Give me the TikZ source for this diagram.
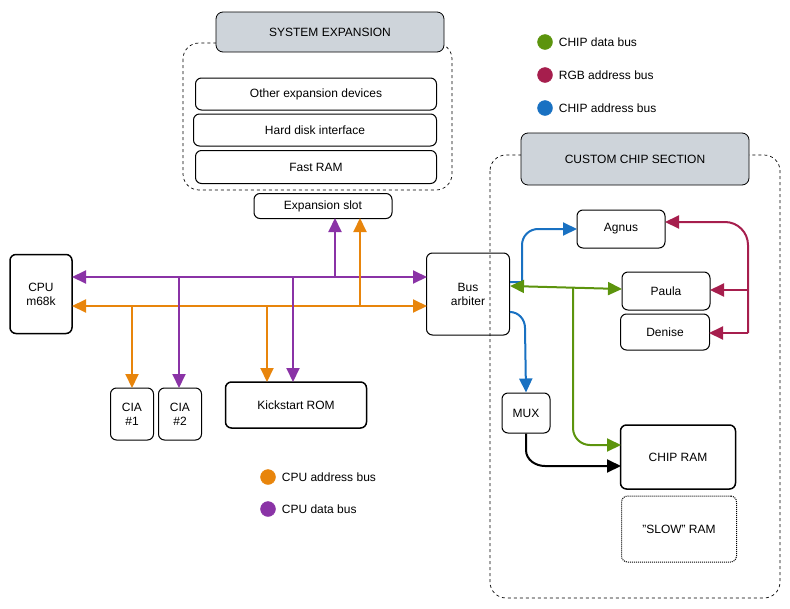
\documentclass[tikz,border=0pt]{standalone}
\usepackage{fontspec}
\setmainfont{Liberation Sans}
\usetikzlibrary{positioning, shapes.geometric, arrows.meta}
\definecolor{cpuaddr}{HTML}{E8850C}
\definecolor{cpudata}{HTML}{8A33A6}
\definecolor{chipdata}{HTML}{5C940D}
\definecolor{rgbaddr}{HTML}{A61E4D}
\definecolor{chipaddr}{HTML}{1971C2}
\definecolor{titlegray}{HTML}{CED4DA}
\tikzset{
  txt/.style={font=\fontsize{12}{14}\selectfont},
  blk/.style={draw, line width=1pt, rounded corners=6pt, txt, align=center, inner sep=0pt},
  sect/.style={draw, dashed, line width=0.7pt, rounded corners=16pt},
  ttl/.style={draw, line width=0.8pt, fill=titlegray, rounded corners=7pt, txt, inner sep=0pt},
  bus/.style={line width=2pt, -{Triangle[length=14pt,width=13pt]}},
  bibus/.style={line width=2pt, {Triangle[length=14pt,width=13pt]}-{Triangle[length=14pt,width=13pt]}},
  dot/.style={circle, fill=#1, draw=#1, inner sep=0pt, minimum size=15pt},
  lgd/.style={right=6pt, txt, inner sep=0pt}
}
\begin{document}
\begin{tikzpicture}[x=1pt, y=-1pt]
  \useasboundingbox (0,0) rectangle (790,608);

  % system expansion
  \draw[sect] (183,43) rectangle (452,190);
  \node[ttl, minimum width=228, minimum height=40] (sysx) at (330,32) {SYSTEM EXPANSION};
  \node[blk, minimum width=241, minimum height=32] (other) at (316,94) {Other expansion devices};
  \node[blk, minimum width=243, minimum height=32] (hdd) at (315,130) {Hard disk interface};
  \node[blk, minimum width=241, minimum height=33] (fram) at (316,167) {Fast RAM};
  \node[blk, minimum width=138, minimum height=25] (slot) at (323,206) {Expansion slot};

  % cpu side
  \node[blk, minimum width=62, minimum height=79, line width=1.5pt] (cpu) at (41,294) {CPU\\m68k};
  \node[blk, minimum width=83, minimum height=82] (arb) at (468,294) {Bus\\arbiter};
  \node[blk, minimum width=43, minimum height=52] (cia1) at (132,414) {CIA\\\#1};
  \node[blk, minimum width=43, minimum height=52] (cia2) at (180,414) {CIA\\\#2};
  \node[blk, minimum width=141, minimum height=46, line width=1.5pt] (rom) at (296,405) {Kickstart ROM};

  \coordinate (dl) at (72,277);  \coordinate (dr) at (427,277);
  \coordinate (al) at (72,306);  \coordinate (ar) at (427,306);
  \draw[bibus, cpudata] (dl) -- (dr);
  \draw[bibus, cpuaddr] (al) -- (ar);
  \draw[bus, cpudata] (179,277) -- (179,388);
  \draw[bus, cpudata] (293,277) -- (293,382);
  \draw[bus, cpudata] (335,277) -- (335,218);
  \draw[bus, cpuaddr] (132,306) -- (132,388);
  \draw[bus, cpuaddr] (267,306) -- (267,382);
  \draw[bus, cpuaddr] (360,306) -- (360,218);

  % custom chip section
  \draw[sect] (490,155) rectangle (780,598);
  \node[ttl, minimum width=228, minimum height=52] (ccs) at (635,159) {CUSTOM CHIP SECTION};
  \node[blk, minimum width=88, minimum height=38] (agnus) at (621,229) {Agnus};
  \node[blk, minimum width=88, minimum height=38] (paula) at (666,291) {Paula};
  \node[blk, minimum width=89, minimum height=36] (denise) at (665,332) {Denise};
  \node[blk, minimum width=48, minimum height=40] (mux) at (526,413) {MUX};
  \node[blk, minimum width=115, minimum height=64, line width=1.5pt] (cram) at (678,457) {CHIP RAM};
  \node[blk, densely dotted, minimum width=115, minimum height=66] (sram) at (679,529) {"SLOW" RAM};

  \draw[bus, chipaddr] (510,282) -| (522,245) to[out=90,in=180] (538,229) -- (577,229);
  \draw[bus, chipaddr] (510,312) to[out=0,in=90] (525,328) -- (mux.north);
  \draw[bibus, chipdata] (510,286) -- (622,289);
  \draw[bus, chipdata] (573,287) -- (573,428) to[out=-90,in=180] (590,445) -- (621,445);
  \draw[bus, rgbaddr] (748,333) -- (748,245) to[out=90,in=0] (725,222) -- (665,222);
  \draw[bus, rgbaddr] (748,290) -- (710,290);
  \draw[bus, rgbaddr] (748,333) -- (709,333);
  \draw[bus, black] (mux.south) -- (526,450) to[out=-90,in=180] (545,466) -- (621,466);

  % legends
  \node[dot=chipdata] (lg1) at (545,42) {};  \node[lgd] at (lg1.east) {CHIP data bus};
  \node[dot=rgbaddr] (lg2) at (545,75) {};   \node[lgd] at (lg2.east) {RGB address bus};
  \node[dot=chipaddr] (lg3) at (545,108) {}; \node[lgd] at (lg3.east) {CHIP address bus};
  \node[dot=cpuaddr] (lg4) at (268,477) {};  \node[lgd] at (lg4.east) {CPU address bus};
  \node[dot=cpudata] (lg5) at (268,509) {};  \node[lgd] at (lg5.east) {CPU data bus};
\end{tikzpicture}
\end{document}
